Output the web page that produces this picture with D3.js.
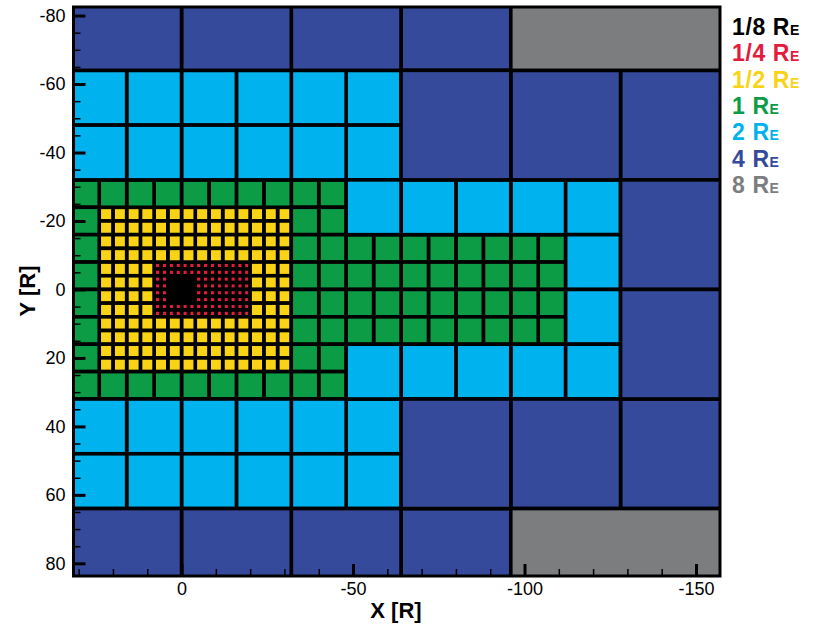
<!DOCTYPE html>
<html>
<head>
<meta charset="utf-8">
<script src="https://cdn.jsdelivr.net/npm/d3@7"></script>
<style>
  body { margin: 0; background: #fff; }
  text { font-family: "Liberation Sans", Arial, Helvetica, sans-serif; }
</style>
</head>
<body>
<svg id="chart" width="816" height="627"></svg>
<script>
// refinement levels, finest first
var levelNames = ["1/8", "1/4", "1/2", "1", "2", "4", "8"];
var cellSizes = [1, 2, 4, 8, 16, 32, 64];
var levelColors = ["#000000", "#e31b3d", "#f9d316", "#0b9c45", "#00b2ed", "#364a9b", "#7b7d7f"];

// boxes covered by each level: [xmin, xmax, ymin, ymax]
var boxes1_8 = [[-4, 4, -4, 4]];
var boxes1_4 = [[-20, 8, -8, 8]];
var boxes1_2 = [[-32, 24, -24, 24]];
var boxes1 = [[-48, 32, -32, 32], [-112, -48, -16, 16]];
var boxes2 = [[-64, 32, -64, -32], [-64, 32, 32, 64], [-112, -48, -32, -16], [-112, -48, 16, 32], [-128, -112, -32, 32]];
var boxes4 = [[-96, 32, -96, -64], [-96, 32, 64, 96], [-160, -64, -64, -32], [-160, -64, 32, 64], [-160, -128, -32, 32]];
var boxes8 = [[-160, -96, -128, -64], [-160, -96, 64, 128]];
var levelBoxes = [boxes1_8, boxes1_4, boxes1_2, boxes1, boxes2, boxes4, boxes8];

var xMajor = [0, -50, -100, -150];
var yMajor = [-80, -60, -40, -20, 0, 20, 40, 60, 80];

var svg = d3.select("#chart");
var x = d3.scaleLinear().domain([31.5, -157]).range([73.5, 720]);
var y = d3.scaleLinear().domain([-82.5, 83.7]).range([7, 576]);

function inside(px, py, b){ return px > b[0] && px < b[1] && py > b[2] && py < b[3]; }

// build cells, skipping those covered by a finer level
var cells = [];
levelBoxes.forEach(function(bl, li){
  var s = cellSizes[li];
  bl.forEach(function(b){
    for (var cx = b[0]; cx < b[1]; cx += s){
      for (var cy = b[2]; cy < b[3]; cy += s){
        var mx = cx + s/2, my = cy + s/2, covered = false;
        for (var k = 0; k < li; k++){
          levelBoxes[k].forEach(function(fb){ if (inside(mx, my, fb)) covered = true; });
        }
        if (!covered) cells.push({x0: cx, x1: cx + s, y0: cy, y1: cy + s, level: li});
      }
    }
  });
});

svg.append("clipPath").attr("id", "plotclip")
  .append("rect").attr("x", 73.5).attr("y", 7).attr("width", 720 - 73.5).attr("height", 576 - 7);

svg.append("g").attr("clip-path", "url(#plotclip)")
  .selectAll("rect").data(cells).enter().append("rect")
  .attr("x", function(d){ return x(d.x1); })
  .attr("y", function(d){ return y(d.y0); })
  .attr("width", function(d){ return x(d.x0) - x(d.x1); })
  .attr("height", function(d){ return y(d.y1) - y(d.y0); })
  .attr("fill", function(d){ return levelColors[d.level]; })
  .attr("stroke", "#000")
  .attr("stroke-width", 3.6);

// axes with inward ticks
var xMinor = d3.range(30, -160, -10).filter(function(v){ return xMajor.indexOf(v) < 0; });
var yMinor = d3.range(-80, 85, 5).filter(function(v){ return yMajor.indexOf(v) < 0; });

var gxMinor = svg.append("g").attr("transform", "translate(0,576)")
  .call(d3.axisBottom(x).tickValues(xMinor).tickSize(-7).tickFormat(""));
var gyMinor = svg.append("g").attr("transform", "translate(73.5,0)")
  .call(d3.axisLeft(y).tickValues(yMinor).tickSize(-7).tickFormat(""));
[gxMinor, gyMinor].forEach(function(g){
  g.select(".domain").remove();
  g.selectAll("line").attr("stroke-width", 1.5);
});

var plain = function(v){ return String(v); };  // keep ascii hyphen
var gx = svg.append("g").attr("transform", "translate(0,576)")
  .call(d3.axisBottom(x).tickValues(xMajor).tickSize(-12).tickPadding(6).tickFormat(plain));
var gy = svg.append("g").attr("transform", "translate(73.5,0)")
  .call(d3.axisLeft(y).tickValues(yMajor).tickSize(-12).tickPadding(8).tickFormat(plain));
[gx, gy].forEach(function(g){
  g.select(".domain").remove();
  g.selectAll("line").attr("stroke-width", 3);
  g.selectAll("text").attr("font-size", 18).attr("fill", "#000")
    .style("font-family", "'Liberation Sans', Arial, sans-serif");
});

// frame
svg.append("rect").attr("x", 73.5).attr("y", 7).attr("width", 720 - 73.5).attr("height", 576 - 7)
  .attr("fill", "none").attr("stroke", "#000").attr("stroke-width", 3);

svg.append("text").attr("x", 396).attr("y", 618).attr("text-anchor", "middle")
  .attr("font-size", 22).attr("font-weight", "bold").text("X [R]");
svg.append("text").attr("transform", "translate(35,291) rotate(-90)").attr("text-anchor", "middle")
  .attr("font-size", 22).attr("font-weight", "bold").text("Y [R]");

// legend
var leg = svg.append("g").attr("transform", "translate(732,35)");
levelNames.forEach(function(n, i){
  var t = leg.append("text").attr("y", i * 26.3).attr("font-weight", "bold")
    .attr("fill", levelColors[i]).attr("font-size", 23).attr("letter-spacing", 0.6);
  t.append("tspan").text(n + " R");
  t.append("tspan").attr("font-size", 14).text("E");
});
</script>
</body>
</html>
